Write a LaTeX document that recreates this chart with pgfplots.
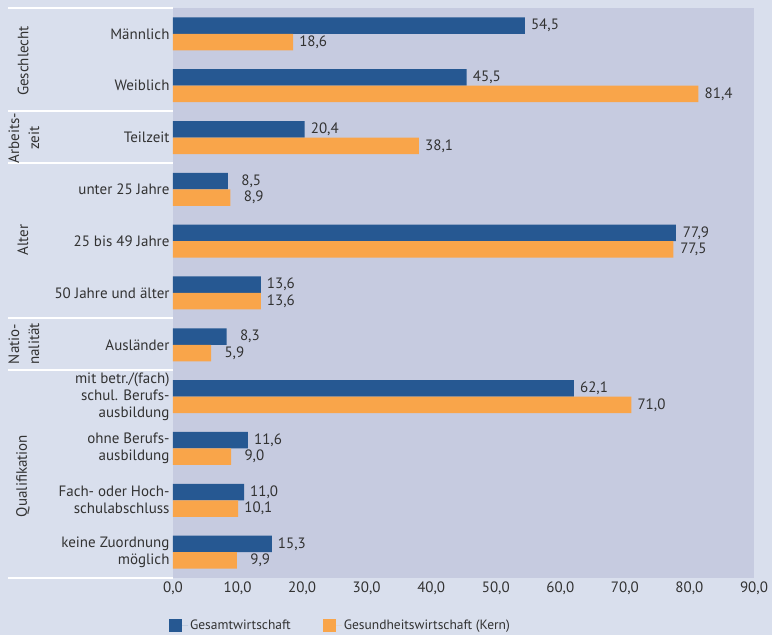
\documentclass[border=0pt]{standalone}
\usepackage{fontspec}
\setmainfont{PT Sans}
\usepackage{pgfplots}
\pgfplotsset{compat=1.18}
\definecolor{outerbg}{RGB}{217,223,237}
\definecolor{plotbg}{RGB}{198,203,224}
\definecolor{barblue}{RGB}{38,88,146}
\definecolor{barorange}{RGB}{249,165,74}
\definecolor{txt}{RGB}{50,50,50}

\begin{document}
\begin{tikzpicture}[x=1pt,y=1pt]
\useasboundingbox (0,0) rectangle (772,635);
\fill[outerbg] (0,0) rectangle (772,635);
\begin{axis}[
  at={(173pt,57pt)}, anchor=south west,
  scale only axis, width=581pt, height=570pt,
  xbar, bar width=16.5pt,
  xmin=0, xmax=90, ymin=-0.5, ymax=10.5,
  axis background/.style={fill=plotbg},
  axis line style={draw=none},
  major tick length=0pt,
  xtick={0,10,...,90},
  ytick={0,...,10},
  yticklabels={{keine Zuordnung\\möglich},{Fach- oder Hoch-\\schulabschluss},{ohne Berufs-\\ausbildung},{mit betr./(fach)\\schul. Berufs-\\ausbildung},Ausländer,50 Jahre und älter,25 bis 49 Jahre,unter 25 Jahre,Teilzeit,Weiblich,Männlich},
  yticklabel style={align=right, font=\fontsize{15}{17}\selectfont, text=txt},
  xticklabel style={font=\fontsize{15}{17}\selectfont, text=txt},
  /pgf/number format/.cd, fixed, fixed zerofill, precision=1, use comma, assume math mode=true,
  /pgfplots/.cd,
  nodes near coords,
  nodes near coords style={font=\fontsize{15}{17}\selectfont, text=txt,
    anchor=west, inner sep=0pt, text width=27pt, align=right, xshift=6pt},
  legend columns=2,
  legend style={at={(axis description cs:-0.007,-0.083)}, anchor=west, draw=none, fill=none,
    font=\fontsize{13.5}{16}\selectfont, text=txt, inner sep=0pt,
    /tikz/every even column/.append style={column sep=30pt}},
  legend image code/.code={\fill[#1] (0pt,-6.5pt) rectangle (13pt,6.5pt); \path (13pt,0pt) -- (19pt,0pt);},
]
\addplot[fill=barblue, draw=none, bar shift=8.25pt] coordinates {
(15.3,0) (11.0,1) (11.6,2) (62.1,3) (8.3,4) (13.6,5) (77.9,6) (8.5,7) (20.4,8) (45.5,9) (54.5,10)};
\addplot[fill=barorange, draw=none, bar shift=-8.25pt] coordinates {
(9.9,0) (10.1,1) (9.0,2) (71.0,3) (5.9,4) (13.6,5) (77.5,6) (8.9,7) (38.1,8) (81.4,9) (18.6,10)};
\legend{Gesamtwirtschaft,Gesundheitswirtschaft (Kern)}
\end{axis}
% group separators
\foreach \yy in {627,524,472,317,265,57}
  \draw[white, line width=2pt] (8,\yy) -- (173,\yy);
\begin{scope}[every node/.style={rotate=90, align=center, text=txt, font=\fontsize{15}{20}\selectfont}]
\node at (23,574) {Geschlecht};
\node at (24,497) {Arbeits-\\zeit};
\node at (23,395) {Alter};
\node at (24,291) {Natio-\\nalität};
\node at (23,159) {Qualifikation};
\end{scope}
\end{tikzpicture}
\end{document}
